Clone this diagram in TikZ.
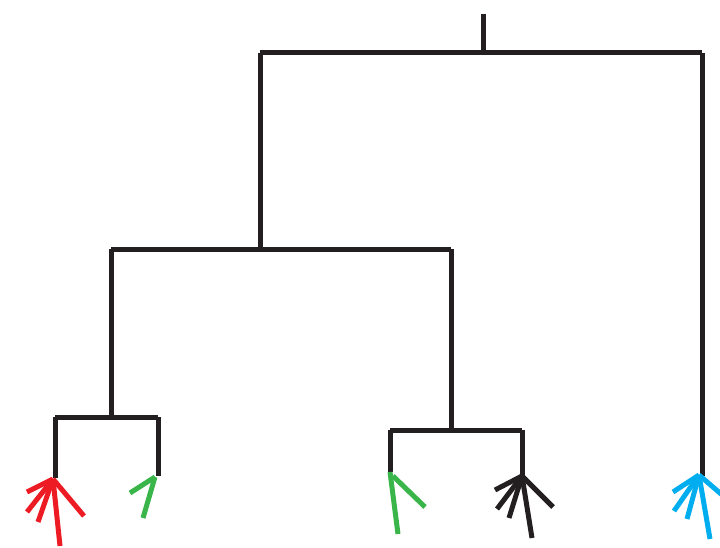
\documentclass[tikz,border=0pt]{standalone}
\definecolor{treeblack}{HTML}{231F20}
\definecolor{leafred}{HTML}{ED1C24}
\definecolor{leafgreen}{HTML}{39B54A}
\definecolor{leafblue}{HTML}{00AEEF}
\tikzset{
  branch/.style={draw=treeblack, line width=5pt},
  twig/.style={line width=5pt},
}
\begin{document}
\begin{tikzpicture}[x=1pt,y=-1pt]
\useasboundingbox (0,0) rectangle (720,548);
\clip (0,0) rectangle (720,548);
% internal coordinates
\coordinate (top) at (483,14);
\coordinate (r) at (483,53);
\coordinate (rl) at (260,53);
\coordinate (rr) at (702,53);
\coordinate (a) at (260,249);
\coordinate (al) at (111,249);
\coordinate (ar) at (451,249);
\coordinate (b) at (111,417);
\coordinate (bl) at (55,417);
\coordinate (br) at (158,417);
\coordinate (c) at (451,430);
\coordinate (cl) at (390,430);
\coordinate (cr) at (522,430);
% leaves
\coordinate (L1) at (55,478);
\coordinate (L2) at (158,476);
\coordinate (L3) at (390,472);
\coordinate (L4) at (522,476);
\coordinate (L5) at (702,476);
% tree
\draw[branch] (top) -- (r);
\draw[branch] (rl) -- (rr);
\draw[branch] (rl) -- (a);
\draw[branch] (rr) -- (L5);
\draw[branch] (al) -- (ar);
\draw[branch] (al) -- (b);
\draw[branch] (ar) -- (c);
\draw[branch] (bl) -- (br);
\draw[branch] (bl) -- (L1);
\draw[branch] (br) -- (L2);
\draw[branch] (cl) -- (cr);
\draw[branch] (cl) -- (L3);
\draw[branch] (cr) -- (L4);
% red leaf
\coordinate (ra) at (53,479);
\coordinate (r1) at (27,492);
\coordinate (r2) at (27,512);
\coordinate (r3) at (38,522);
\coordinate (r4) at (60,546);
\coordinate (r5) at (84,516);
\foreach \e in {r1,r2,r3,r4,r5} \draw[twig, leafred] (ra) -- (\e);
% green leaf 1
\coordinate (ga) at (155,477);
\coordinate (g1) at (130,493);
\coordinate (g2) at (143,518);
\foreach \e in {g1,g2} \draw[twig, leafgreen] (ga) -- (\e);
% green leaf 2
\coordinate (ha) at (393,476);
\coordinate (h1) at (398,534);
\coordinate (h2) at (425,507);
\draw[twig, leafgreen] (L3) -- (h1);
\draw[twig, leafgreen] (ha) -- (h2);
% black leaf
\coordinate (k1) at (495,490);
\coordinate (k2) at (497,509);
\coordinate (k3) at (509,518);
\coordinate (k4) at (532,538);
\coordinate (k5) at (553,507);
\foreach \e in {k1,k2,k3,k4,k5} \draw[twig, treeblack] (L4) -- (\e);
% blue leaf
\coordinate (ua) at (699,475);
\coordinate (u1) at (673,492);
\coordinate (u2) at (674,511);
\coordinate (u3) at (687,519);
\coordinate (u4) at (710,539);
\coordinate (u5) at (735,506);
\foreach \e in {u1,u2,u3,u4,u5} \draw[twig, leafblue] (ua) -- (\e);
\end{tikzpicture}
\end{document}
